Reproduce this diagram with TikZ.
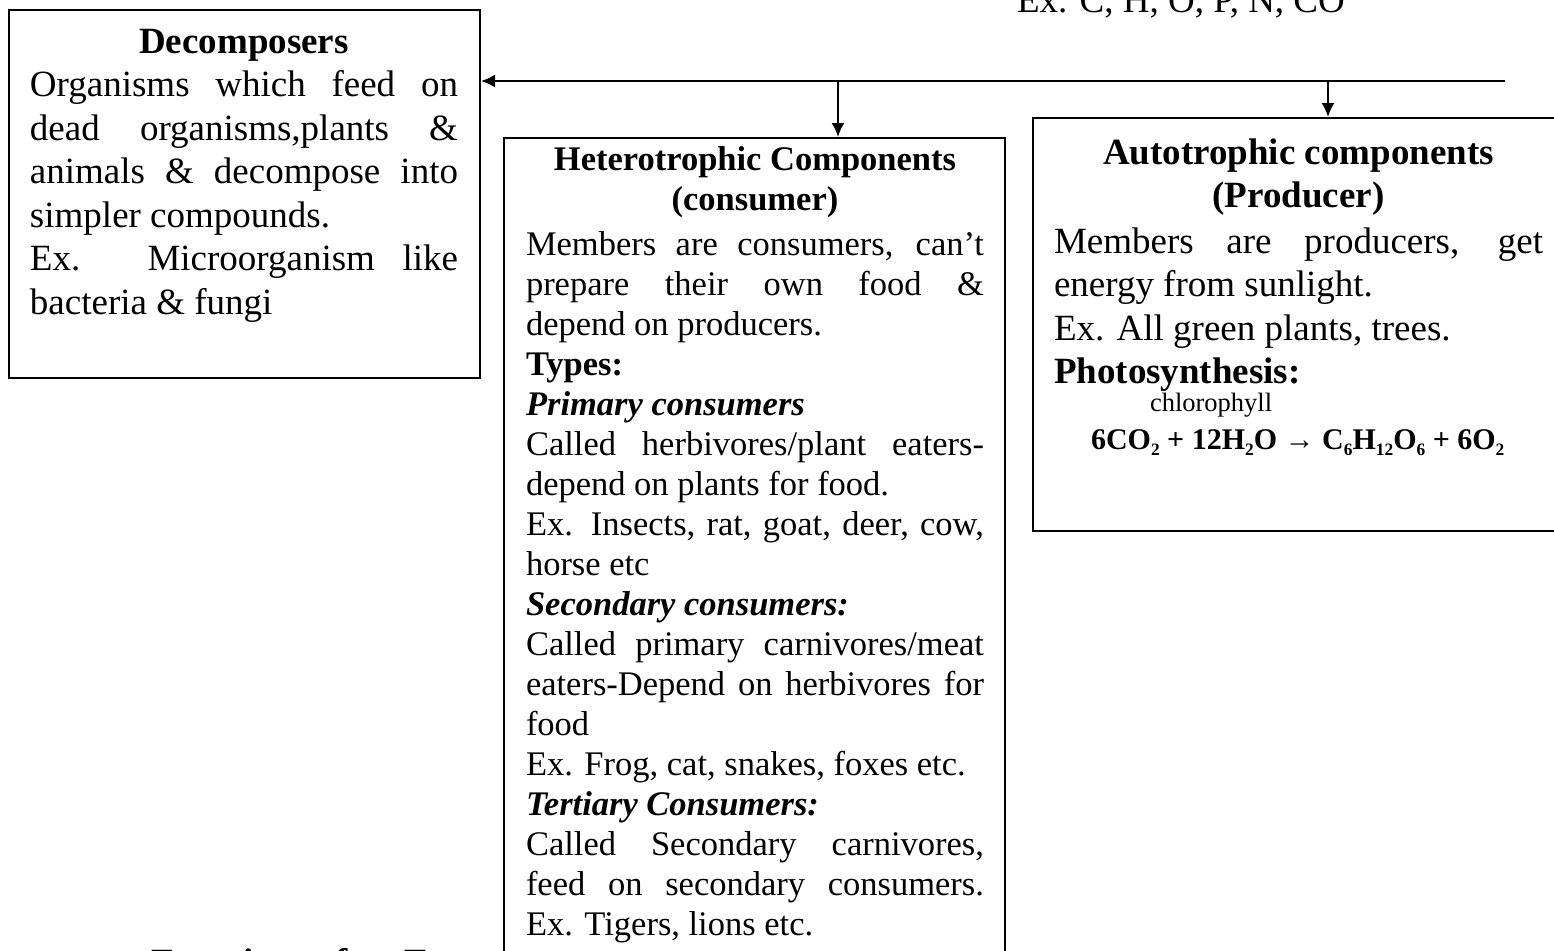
\documentclass[tikz,border=0pt]{standalone}
\usepackage{fontspec}
\setmainfont{Liberation Serif}
\usetikzlibrary{arrows.meta}
\tikzset{>={Latex[length=7pt,width=6.5pt]}}
\def\boxline{1pt}
\newcommand\chemsub[1]{\raisebox{-0.22em}{\fontsize{8.7}{10}\selectfont #1}}
\tikzset{
  compbox/.style={draw, line width=\boxline, fill=white, inner sep=0pt, anchor=north west},
  boxtext/.style={inner sep=0pt, align=justify, anchor=base west},
  bigfont/.style={font=\fontsize{18.5}{21.75}\selectfont},
  smallfont/.style={font=\fontsize{17.25}{20}\selectfont}
}
\tolerance=10000
\hbadness=10000

\begin{document}
\begin{tikzpicture}[x=1pt, y=1pt, line width=\boxline]
    \useasboundingbox (0,0) rectangle (777,-475);
    \node[boxtext, font=\bfseries\fontsize{18.5}{21.75}\selectfont] (func) at (75,-487) {Functions of an Ecosystem};
    \node[boxtext, bigfont] (elements) at (508,-6) {Ex. C, H, O, P, N, CO};
    \node[compbox, minimum width=235.5pt, minimum height=184pt] (decomp) at (4,-4.5) {};
    \node[compbox, minimum width=250.5pt, minimum height=420pt] (hetero) at (251.5,-68.5) {};
    \node[compbox, minimum width=265pt, minimum height=206.5pt] (auto) at (516,-58.5) {};
    \node[boxtext, bigfont, text width=214pt] (decomptxt) at (14.5,-26.5) {%
      {\centering\bfseries Decomposers\par}
      Organisms which feed on\linebreak dead organisms,plants \&\linebreak animals \& decompose into\linebreak simpler compounds.\par
      Ex. Microorganism like\linebreak bacteria \& fungi};
    \node[boxtext, smallfont, text width=229pt] (heterotxt) at (262.5,-85) {%
      {\centering\bfseries Heterotrophic Components\par (consumer)\par}\vspace{2.5pt}
      Members are consumers, can’t\linebreak prepare their own food \&\linebreak depend on producers.\par
      \textbf{Types:}\par
      \textbf{\textit{Primary consumers}}\par
      Called herbivores/plant eaters-\linebreak depend on plants for food.\par
      Ex. Insects, rat, goat, deer, cow,\linebreak horse etc\par
      \textbf{\textit{Secondary consumers:}}\par
      Called primary carnivores/meat\linebreak eaters-Depend on herbivores for\linebreak food\par
      Ex. Frog, cat, snakes, foxes etc.\par
      \textbf{\textit{Tertiary Consumers:}}\par
      Called Secondary carnivores,\linebreak feed on secondary consumers.\linebreak Ex. Tigers, lions etc.};
    \node[boxtext, bigfont, text width=244.5pt] (autotxt) at (526.5,-82) {%
      {\centering\bfseries Autotrophic components\par (Producer)\par}\vspace{1pt}
      Members are producers, get\linebreak energy from sunlight.\par
      Ex. All green plants, trees.\par
      \textbf{Photosynthesis:}};
    \node[boxtext, font=\fontsize{13.25}{15}\selectfont] (chloro) at (574.5,-205.5) {chlorophyll};
    \node[boxtext, font=\bfseries\fontsize{15}{18}\selectfont] (eqn) at (545,-224.5) {6CO\chemsub{2} + 12H\chemsub{2}O → C\chemsub{6}H\chemsub{12}O\chemsub{6} + 6O\chemsub{2}};
    \coordinate (lineend) at (752.5,-40.5);
    \coordinate (hj) at (419,-40.5);
    \coordinate (aj) at (664,-40.5);
    \draw[->] (lineend) -- (decomp.east |- lineend);
    \draw[->] (hj) -- (hj |- hetero.north);
    \draw[->] (aj) -- (aj |- auto.north);
\end{tikzpicture}
\end{document}
